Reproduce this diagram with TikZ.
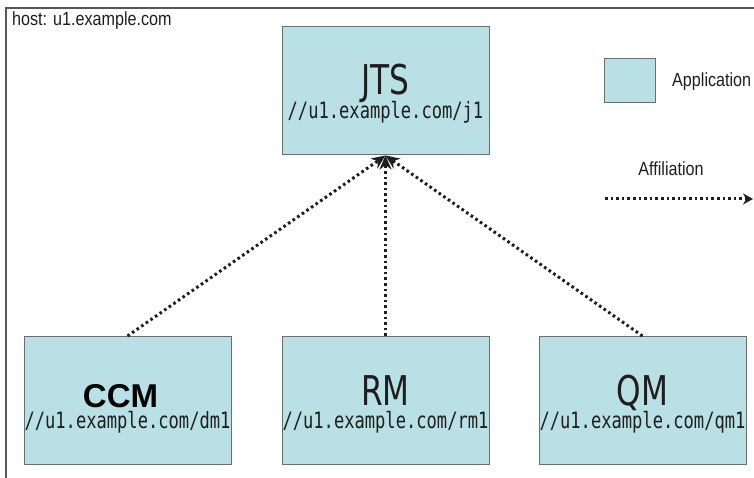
\documentclass[tikz,border=0pt]{standalone}
\usepackage{fontspec}
\usepackage{tikz}
\usetikzlibrary{arrows.meta}
\newfontfamily\titlefont[FakeStretch=0.76]{DejaVu Sans}
\newfontfamily\urlfont[FakeStretch=0.76]{DejaVu Sans Mono}
\newfontfamily\legfont[FakeStretch=0.85]{Liberation Sans}
\newfontfamily\ccmfont{Liberation Sans}
\definecolor{appfill}{RGB}{185,224,228}
\definecolor{boxline}{RGB}{105,110,110}
\definecolor{textdark}{RGB}{30,30,30}

\begin{document}
\begin{tikzpicture}[x=1pt,y=-1pt,
    app/.style={draw=boxline,fill=appfill,line width=1pt,minimum width=207pt,minimum height=128pt,inner sep=0pt},
    title/.style={anchor=base,text=textdark,inner sep=0pt,font=\titlefont\fontsize{41}{41}\selectfont},
    addr/.style={anchor=base,text=textdark,inner sep=0pt,font=\urlfont\fontsize{22.5}{22.5}\selectfont},
    affil/.style={draw=textdark,line width=3pt,dash pattern=on 2.6pt off 3pt,-{Stealth[length=14pt,width=12pt]}},
    leg/.style={text=textdark,inner sep=0pt,font=\legfont\fontsize{19}{19}\selectfont}]
        \useasboundingbox (0,0) rectangle (754,478);
        % frame
        \draw[boxline!80!black,line width=1.2pt] (6,478) -- (6,8) -- (754,8);
        \node[leg,anchor=base west] (host) at (12,26) {host: u1.example.com};
        % applications
        \node[app] (jts) at (385.5,91) {};
        \node[app] (ccm) at (127.5,400.5) {};
        \node[app] (rm) at (385.5,400.5) {};
        \node[app] (qm) at (642.5,400.5) {};
        \node[title] (jtsT) at ([yshift=-68pt]jts.north) {JTS};
        \node[addr] (jtsU) at ([yshift=-92pt]jts.north) {//u1.example.com/j1};
        \node[title,font=\ccmfont\bfseries\fontsize{33}{33}\selectfont,text=black] (ccmT) at ([xshift=-7pt,yshift=-71pt]ccm.north) {CCM};
        \node[addr] (ccmU) at ([yshift=-92pt]ccm.north) {//u1.example.com/dm1};
        \node[title] (rmT) at ([yshift=-69pt]rm.north) {RM};
        \node[addr] (rmU) at ([yshift=-92pt]rm.north) {//u1.example.com/rm1};
        \node[title] (qmT) at ([yshift=-69pt]qm.north) {QM};
        \node[addr] (qmU) at ([yshift=-92pt]qm.north) {//u1.example.com/qm1};
        % affiliations
        \draw[affil] (ccm.north) -- (jts.south);
        \draw[affil] (rm.north) -- (jts.south);
        \draw[affil] (qm.north) -- (jts.south);
        % legend
        \node[app,minimum width=51pt,minimum height=44pt] (legApp) at (629.5,81) {};
        \node[leg,anchor=base west] (legAppT) at (672,87) {Application};
        \node[leg,anchor=base] (legAffT) at (671,176) {Affiliation};
        \coordinate (legAffS) at (605,199);
        \coordinate (legAffE) at (753,199);
        \draw[affil,-{Stealth[length=10pt,width=11pt]}] (legAffS) -- (legAffE);
\end{tikzpicture}
\end{document}
